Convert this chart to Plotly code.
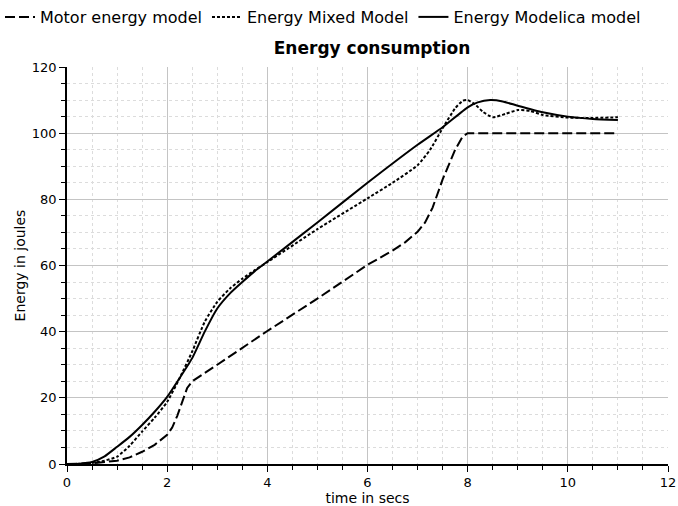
import plotly.graph_objects as go

# Time samples (s) and energy (J) for each model
t_motor = [0, 0.5, 1.0, 1.25, 1.5, 1.75, 2.0, 2.1, 2.2, 2.3, 2.4, 2.5, 2.75, 3.0,
           4.0, 5.0, 6.0, 6.5, 6.75, 7.0, 7.15, 7.3, 7.5, 7.75, 7.9, 8.0, 11.0]
e_motor = [0, 0.2, 1.0, 2.0, 3.7, 5.8, 8.8, 11.0, 14.5, 19.0, 23.0, 25.0, 27.6, 30.0,
           40.2, 50.0, 60.2, 64.5, 67.0, 70.2, 73.0, 77.5, 86.0, 95.0, 99.0, 100.0, 100.0]

t_mixed = [0, 0.25, 0.5, 0.75, 1.0, 1.25, 1.5, 1.75, 2.0, 2.25, 2.5, 2.75, 3.0, 3.25,
           3.5, 3.75, 4.0, 5.0, 6.0, 6.5, 7.0, 7.25, 7.5, 7.75, 7.9, 8.0, 8.15, 8.3,
           8.5, 8.75, 9.0, 9.25, 9.5, 10.0, 10.5, 11.0]
e_mixed = [0, 0.05, 0.3, 1.0, 2.2, 5.5, 9.8, 14.0, 18.8, 26.0, 34.0, 43.0, 49.0, 53.0,
           56.0, 58.6, 61.0, 71.0, 80.3, 85.0, 90.3, 95.0, 101.5, 107.5, 109.8, 110.0,
           108.7, 106.5, 104.8, 105.8, 107.0, 106.7, 105.5, 104.7, 104.6, 104.8]

t_modelica = [0, 0.25, 0.5, 0.75, 1.0, 1.25, 1.5, 1.75, 2.0, 2.25, 2.5, 2.75, 3.0,
              3.25, 3.5, 3.75, 4.0, 5.0, 6.0, 7.0, 7.5, 8.0, 8.2, 8.45, 8.7, 9.0,
              9.5, 10.0, 10.5, 11.0]
e_modelica = [0, 0.1, 0.6, 2.3, 5.2, 8.2, 11.8, 15.8, 20.3, 26.0, 32.0, 40.0, 47.0,
              51.5, 55.0, 58.3, 61.2, 73.0, 85.0, 96.5, 101.8, 107.8, 109.3, 110.0,
              109.6, 108.3, 106.3, 105.0, 104.3, 104.0]

FONT = "DejaVu Sans"

fig = go.Figure()
fig.add_trace(go.Scatter(x=t_motor, y=e_motor, mode="lines", name="Motor energy model",
                         line=dict(color="black", width=2, dash="10px,4px")))
fig.add_trace(go.Scatter(x=t_mixed, y=e_mixed, mode="lines", name="Energy Mixed Model",
                         line=dict(color="black", width=2, dash="3px,2px",
                                   shape="spline", smoothing=0.5)))
fig.add_trace(go.Scatter(x=t_modelica, y=e_modelica, mode="lines", name="Energy Modelica model",
                         line=dict(color="black", width=2, shape="spline", smoothing=0.5)))

axis_common = dict(
    showline=True, linecolor="black", linewidth=1.5,
    showgrid=True, gridcolor="#c4c4c4", gridwidth=1,
    ticks="outside", ticklen=6, tickcolor="black",
    tickfont=dict(family=FONT, size=13, color="black"),
    zeroline=False, automargin=False,
)

fig.update_layout(
    width=678, height=506,
    margin=dict(l=67, r=10, t=67, b=42, autoexpand=False),
    paper_bgcolor="white", plot_bgcolor="white",
    font=dict(family=FONT, color="black"),
    title=dict(text="<b>Energy consumption</b>", x=372 / 678, xanchor="center",
               y=1 - 48 / 506, yanchor="middle", font=dict(family=FONT, size=17)),
    legend=dict(orientation="h", x=-67 / 601, xanchor="left", y=1 + 67 / 397,
                yanchor="top", font=dict(family=FONT, size=16), itemwidth=30,
                bgcolor="rgba(0,0,0,0)"),
    xaxis=dict(range=[0, 12], dtick=2,
               title=dict(text="time in secs", font=dict(family=FONT, size=14), standoff=2),
               minor=dict(dtick=0.5, showgrid=True, gridcolor="#dcdcdc", griddash="dot",
                          ticks="outside", ticklen=4, tickcolor="black"),
               **axis_common),
    yaxis=dict(range=[0, 120], dtick=20,
               title=dict(text="Energy in joules", font=dict(family=FONT, size=14), standoff=3),
               minor=dict(dtick=5, showgrid=True, gridcolor="#dcdcdc", griddash="dot",
                          ticks="outside", ticklen=4, tickcolor="black"),
               **axis_common),
)

fig.write_html("out.html")
